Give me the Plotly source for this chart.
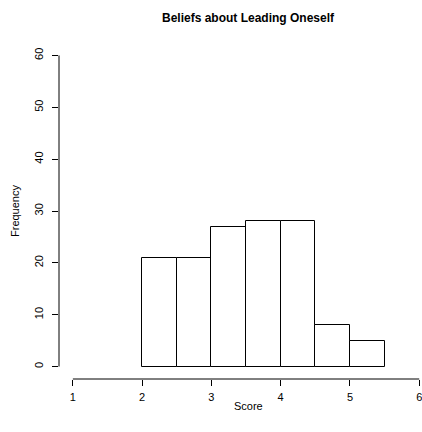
import plotly.graph_objects as go

bin_left = [2.0, 2.5, 3.0, 3.5, 4.0, 4.5, 5.0]
bin_width = 0.5
counts = [21, 21, 27, 28, 28, 8, 5]
x_ticks = [1, 2, 3, 4, 5, 6]
y_ticks = [0, 10, 20, 30, 40, 50, 60]
title = "Beliefs about Leading Oneself"
x_label = "Score"
y_label = "Frequency"

centers = [b + bin_width / 2 for b in bin_left]

W, H = 422, 432
L, R, T, B = 59, 0, 43, 53

fig = go.Figure(go.Bar(
    x=centers, y=counts, width=bin_width,
    marker=dict(color="white", line=dict(color="black", width=1)),
))

font = dict(family="Liberation Sans, Arial, Helvetica, sans-serif", size=11, color="black")

fig.update_layout(
    width=W, height=H,
    margin=dict(l=L, r=R, t=T, b=B),
    plot_bgcolor="white", paper_bgcolor="white",
    showlegend=False, bargap=0,
    font=font,
    xaxis=dict(range=[0.8, 6.04], tickvals=x_ticks, ticktext=[str(v) for v in x_ticks],
               showgrid=False, zeroline=False, showline=False,
               ticks="outside", ticklen=6, tickcolor="black", tickwidth=1,
               ticklabeloverflow="allow", ticklabelstandoff=2,
               automargin=False, fixedrange=True),
    yaxis=dict(range=[-2.4, 62.4], tickvals=y_ticks, ticktext=[str(v) for v in y_ticks],
               showgrid=False, zeroline=False, showline=False,
               ticks="outside", ticklen=6, tickcolor="black", tickwidth=1,
               tickangle=-90, ticklabelstandoff=5,
               automargin=False, fixedrange=True),
    shapes=[
        dict(type="line", xref="x", yref="paper", x0=x_ticks[0], x1=x_ticks[-1], y0=0, y1=0,
             line=dict(color="black", width=1)),
        dict(type="line", xref="paper", yref="y", x0=0, x1=0, y0=y_ticks[0], y1=y_ticks[-1],
             line=dict(color="black", width=1)),
    ],
    annotations=[
        dict(text="<b>" + title + "</b>", xref="paper", yref="paper",
             x=(248 - L) / (W - L - R), y=(H - 18 - B) / (H - T - B),
             showarrow=False, xanchor="center", yanchor="middle",
             font=dict(family=font["family"], size=12, color="black")),
        dict(text=x_label, xref="paper", yref="paper",
             x=(248 - L) / (W - L - R), y=-(406 - (H - B)) / (H - T - B),
             showarrow=False, xanchor="center", yanchor="middle", font=font),
        dict(text=y_label, xref="paper", yref="paper",
             x=-(L - 15) / (W - L - R), y=0.5, textangle=-90,
             showarrow=False, xanchor="center", yanchor="middle", font=font),
    ],
)

fig.write_html("out.html")
